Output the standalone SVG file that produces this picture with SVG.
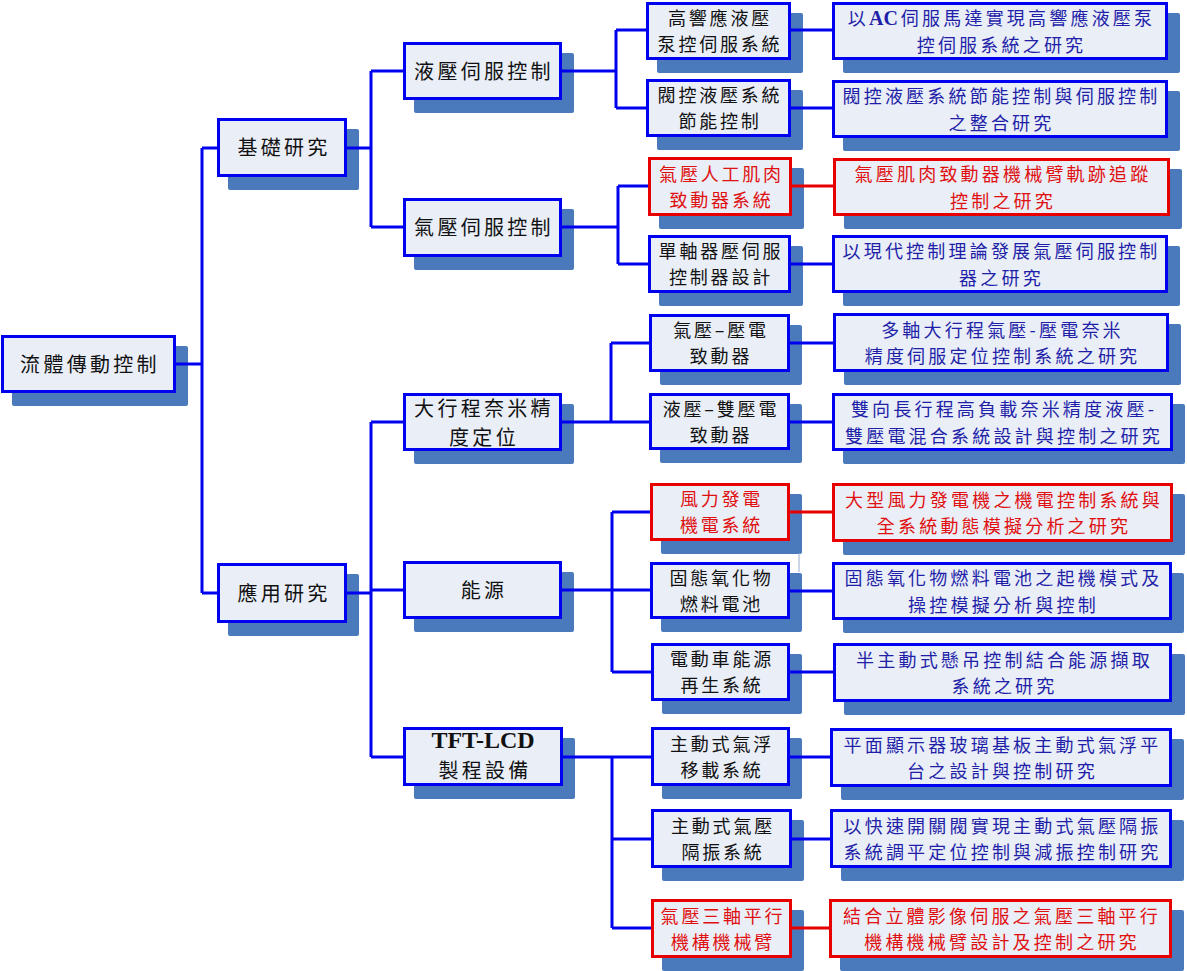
<svg xmlns="http://www.w3.org/2000/svg" width="1187" height="971" viewBox="0 0 1187 971">
<style>
.sh{fill:#4a7abb}
.b{fill:#e9eef7;stroke:#0000f0;stroke-width:3}
.r{fill:#e9eef7;stroke:#e80000;stroke-width:3}
.c{stroke:#0000f0;stroke-width:3;fill:none}
.cr{stroke:#e80000;stroke-width:3;fill:none}
text{font-family:"Noto Sans CJK TC","Noto Sans CJK SC",sans-serif;text-anchor:middle}
.L{font-size:20px;letter-spacing:3.3px;fill:#111}
.M{font-size:18px;letter-spacing:2.8px;fill:#111}
.R{font-size:18px;letter-spacing:3.2px;fill:#1f1fa8}
.red{fill:#e01010}
.ser{font-family:"Liberation Serif",serif;font-weight:bold}
</style>
<rect width="1187" height="971" fill="#fff"/>

<g id="root"><rect class="sh" x="12" y="346" width="176" height="60" rx="2"/><rect class="b" x="2.5" y="336.5" width="172" height="55"/><text class="L" x="90" y="371.5">流體傳動控制</text></g>
<g id="jichu"><rect class="sh" x="228" y="129" width="131" height="61" rx="2"/><rect class="b" x="218.5" y="119.5" width="127" height="56"/><text class="L" x="284" y="155">基礎研究</text></g>
<g id="yingyong"><rect class="sh" x="228" y="574" width="131" height="62" rx="2"/><rect class="b" x="218.5" y="564.5" width="127" height="57"/><text class="L" x="284" y="600.5">應用研究</text></g>

<g id="yeya"><rect class="sh" x="414" y="53" width="160" height="60" rx="2"/><rect class="b" x="404.5" y="43.5" width="156" height="55"/><text class="L" x="484" y="78.5">液壓伺服控制</text></g>
<g id="qiya"><rect class="sh" x="414" y="209" width="160" height="61" rx="2"/><rect class="b" x="404.5" y="199.5" width="156" height="56"/><text class="L" x="484" y="235">氣壓伺服控制</text></g>
<g id="daxingcheng"><rect class="sh" x="414" y="404" width="160" height="60" rx="2"/><rect class="b" x="404.5" y="394.5" width="156" height="55"/><text class="L" x="484" y="416">大行程奈米精</text><text class="L" x="484" y="445">度定位</text></g>
<g id="nengyuan"><rect class="sh" x="414" y="572" width="160" height="60" rx="2"/><rect class="b" x="404.5" y="562.5" width="156" height="55"/><text class="L" x="484" y="597.5">能源</text></g>
<g id="tft"><rect class="sh" x="414" y="738" width="161" height="61" rx="2"/><rect class="b" x="404.5" y="728.5" width="157" height="56"/><text class="ser" x="483" y="748" font-size="24" fill="#111">TFT-LCD</text><text class="L" x="485" y="777.5">製程設備</text></g>

<g id="m1"><rect class="sh" x="657" y="13" width="146" height="60" rx="2"/><rect class="b" x="647.5" y="3.5" width="142" height="55"/><text class="M" x="720" y="25">高響應液壓</text><text class="M" x="720" y="51">泵控伺服系統</text></g>
<g id="m2"><rect class="sh" x="657" y="90" width="146" height="60" rx="2"/><rect class="b" x="647.5" y="80.5" width="142" height="55"/><text class="M" x="720" y="102">閥控液壓系統</text><text class="M" x="720" y="128">節能控制</text></g>
<g id="m3"><rect class="sh" x="659" y="168" width="145" height="61" rx="2"/><rect class="r" x="649.5" y="158.5" width="141" height="56"/><text class="M red" x="721.5" y="180.5">氣壓人工肌肉</text><text class="M red" x="721.5" y="206.5">致動器系統</text></g>
<g id="m4"><rect class="sh" x="659" y="246" width="144" height="60" rx="2"/><rect class="b" x="649.5" y="236.5" width="140" height="55"/><text class="M" x="721" y="258">單軸器壓伺服</text><text class="M" x="721" y="284">控制器設計</text></g>
<g id="m5"><rect class="sh" x="660" y="325" width="142" height="60" rx="2"/><rect class="b" x="650.5" y="315.5" width="138" height="55"/><text class="M" x="721" y="337">氣壓–壓電</text><text class="M" x="721" y="363">致動器</text></g>
<g id="m6"><rect class="sh" x="660" y="404" width="142" height="59" rx="2"/><rect class="b" x="650.5" y="394.5" width="138" height="54"/><text class="M" x="721" y="415.5">液壓–雙壓電</text><text class="M" x="721" y="441.5">致動器</text></g>
<g id="m7"><rect class="sh" x="661" y="494" width="141" height="60" rx="2"/><rect class="r" x="651.5" y="484.5" width="137" height="55"/><text class="M red" x="721.5" y="506">風力發電</text><text class="M red" x="721.5" y="532">機電系統</text></g>
<g id="m8"><rect class="sh" x="661" y="573" width="141" height="59" rx="2"/><rect class="b" x="651.5" y="563.5" width="137" height="54"/><text class="M" x="721.5" y="584.5">固態氧化物</text><text class="M" x="721.5" y="610.5">燃料電池</text></g>
<g id="m9"><rect class="sh" x="662" y="654" width="140" height="60" rx="2"/><rect class="b" x="652.5" y="644.5" width="136" height="55"/><text class="M" x="722" y="666">電動車能源</text><text class="M" x="722" y="692">再生系統</text></g>
<g id="m10"><rect class="sh" x="662" y="738" width="140" height="61" rx="2"/><rect class="b" x="652.5" y="728.5" width="136" height="56"/><text class="M" x="722" y="750.5">主動式氣浮</text><text class="M" x="722" y="776.5">移載系統</text></g>
<g id="m11"><rect class="sh" x="662" y="820" width="142" height="61" rx="2"/><rect class="b" x="652.5" y="810.5" width="138" height="56"/><text class="M" x="723" y="832.5">主動式氣壓</text><text class="M" x="723" y="858.5">隔振系統</text></g>
<g id="m12"><rect class="sh" x="662" y="910" width="142" height="61" rx="2"/><rect class="r" x="652.5" y="900.5" width="138" height="56"/><text class="M red" x="723" y="922.5">氣壓三軸平行</text><text class="M red" x="723" y="948.5">機構機械臂</text></g>

<g id="p1"><rect class="sh" x="843" y="13" width="337" height="60" rx="2"/><rect class="b" x="833.5" y="3.5" width="333" height="55"/><text class="R" x="1001.5" y="25">以<tspan class="ser" font-size="20" letter-spacing="0">AC</tspan><tspan dx="3">伺服馬達實現高響應液壓泵</tspan></text><text class="R" x="1001.5" y="51.5">控伺服系統之研究</text></g>
<g id="p2"><rect class="sh" x="843" y="91" width="337" height="60" rx="2"/><rect class="b" x="833.5" y="81.5" width="333" height="55"/><text class="R" x="1001.5" y="103">閥控液壓系統節能控制與伺服控制</text><text class="R" x="1001.5" y="129.5">之整合研究</text></g>
<g id="p3"><rect class="sh" x="844" y="169" width="338" height="60" rx="2"/><rect class="r" x="834.5" y="159.5" width="334" height="55"/><text class="R red" x="1003" y="181">氣壓肌肉致動器機械臂軌跡追蹤</text><text class="R red" x="1003" y="207.5">控制之研究</text></g>
<g id="p4"><rect class="sh" x="843" y="246" width="337" height="60" rx="2"/><rect class="b" x="833.5" y="236.5" width="333" height="55"/><text class="R" x="1001.5" y="258">以現代控制理論發展氣壓伺服控制</text><text class="R" x="1001.5" y="284.5">器之研究</text></g>
<g id="p5"><rect class="sh" x="844" y="324" width="337" height="61" rx="2"/><rect class="b" x="834.5" y="314.5" width="333" height="56"/><text class="R" x="1002.5" y="336.5">多軸大行程氣壓-壓電奈米</text><text class="R" x="1002.5" y="363">精度伺服定位控制系統之研究</text></g>
<g id="p6"><rect class="sh" x="843" y="404" width="342" height="60" rx="2"/><rect class="b" x="833.5" y="394.5" width="338" height="55"/><text class="R" x="1004" y="416">雙向長行程高負載奈米精度液壓-</text><text class="R" x="1004" y="442.5">雙壓電混合系統設計與控制之研究</text></g>
<g id="p7"><rect class="sh" x="843" y="494" width="342" height="61" rx="2"/><rect class="r" x="833.5" y="484.5" width="338" height="56"/><text class="R red" x="1004" y="506.5">大型風力發電機之機電控制系統與</text><text class="R red" x="1004" y="533">全系統動態模擬分析之研究</text></g>
<g id="p8"><rect class="sh" x="843" y="573" width="341" height="60" rx="2"/><rect class="b" x="833.5" y="563.5" width="337" height="55"/><text class="R" x="1003.5" y="585">固態氧化物燃料電池之起機模式及</text><text class="R" x="1003.5" y="611.5">操控模擬分析與控制</text></g>
<g id="p9"><rect class="sh" x="844" y="654" width="341" height="61" rx="2"/><rect class="b" x="834.5" y="644.5" width="336" height="56"/><text class="R" x="1004.5" y="666.5">半主動式懸吊控制結合能源擷取</text><text class="R" x="1004.5" y="693">系統之研究</text></g>
<g id="p10"><rect class="sh" x="841" y="739" width="343" height="61" rx="2"/><rect class="b" x="831.5" y="729.5" width="339" height="56"/><text class="R" x="1002.5" y="751.5">平面顯示器玻璃基板主動式氣浮平</text><text class="R" x="1002.5" y="778">台之設計與控制研究</text></g>
<g id="p11"><rect class="sh" x="841" y="820" width="343" height="61" rx="2"/><rect class="b" x="831.5" y="810.5" width="339" height="56"/><text class="R" x="1002.5" y="832.5">以快速開關閥實現主動式氣壓隔振</text><text class="R" x="1002.5" y="859">系統調平定位控制與減振控制研究</text></g>
<g id="p12"><rect class="sh" x="840" y="910" width="344" height="61" rx="2"/><rect class="r" x="830.5" y="900.5" width="340" height="56"/><text class="R red" x="1002" y="922.5">結合立體影像伺服之氣壓三軸平行</text><text class="R red" x="1002" y="949">機構機械臂設計及控制之研究</text></g>

<g id="connectors">
<path class="c" d="M176 364H202M202 148V593M202 148H217M202 593H217"/>
<path class="c" d="M347 148H371M371 71V227M371 71H403M371 227H403"/>
<path class="c" d="M347 593H371M371 422V757M371 422H403M371 590H403M371 757H403"/>
<path class="c" d="M562 71H616M616 30V108M616 30H646M616 108H646"/>
<path class="c" d="M562 227H618M618 186V264M618 186H648M618 264H648"/>
<path class="c" d="M562 422H649M611 343V422M611 343H649"/>
<path class="c" d="M562 590H650M612 512V672M612 512H650M612 672H651"/>
<path class="c" d="M563 757H651M612 757V928M612 839H651M612 928H651"/>
<path class="c" d="M791 30H832M791 108H832M791 264H832M790 343H833M790 422H832M790 591H832M790 672H833M790 757H830M792 839H830"/>
<path class="cr" d="M792 186H833M790 512H832M792 928H829"/>
<path d="M799 553V572" stroke="#9aaad0" stroke-width="1"/>
</g>
</svg>
